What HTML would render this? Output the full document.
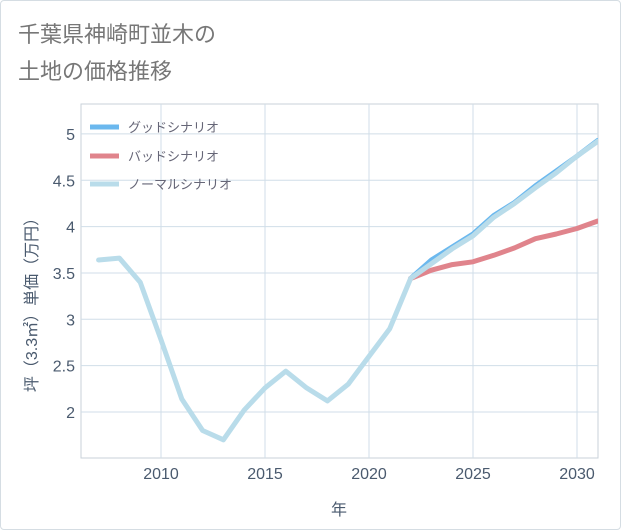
<!DOCTYPE html>
<html><head><meta charset="utf-8"><style>
body{margin:0;background:#fff;}
#wrap{position:relative;width:619px;height:528px;border:1px solid #d5dde3;border-radius:4px;background:#fff;overflow:hidden;}
svg text{font-family:"Liberation Sans","Noto Sans CJK JP",sans-serif;}
</style></head><body>
<div id="wrap">
<svg id="chart" width="621" height="530">
<defs><clipPath id="pc"><rect x="80" y="103" width="517" height="354"/></clipPath></defs>
<text x="17" y="41" font-size="22" fill="#777">千葉県神崎町並木の</text>
<text x="17" y="78" font-size="22" fill="#777">土地の価格推移</text>
<g id="grid"></g><g id="series" clip-path="url(#pc)"></g><g id="axes"></g>
</svg>
</div>
<script>
const years=[2007,2008,2009,2010,2011,2012,2013,2014,2015,2016,2017,2018,2019,2020,2021,2022,2023,2024,2025,2026,2027,2028,2029,2030,2031];
const normal=[3.64,3.66,3.40,2.78,2.14,1.80,1.70,2.02,2.26,2.44,2.26,2.12,2.30,2.60,2.90,3.44,3.60,3.76,3.90,4.10,4.25,4.42,4.58,4.76,4.92];
const goodYears=[2022,2023,2024,2025,2026,2027,2028,2029,2030,2031];
const good=[3.44,3.64,3.78,3.92,4.12,4.26,4.44,4.60,4.76,4.93];
const badYears=[2022,2023,2024,2025,2026,2027,2028,2029,2030,2031];
const bad=[3.44,3.53,3.59,3.62,3.69,3.77,3.87,3.92,3.98,4.06];
const xTicks=[2010,2015,2020,2025,2030];
const yTicks=[2,2.5,3,3.5,4,4.5,5];
const yTickLabels=["2","2.5","3","3.5","4","4.5","5"];
const L=80,R=597,T=103,B=457;
const X=v=>160+(v-2010)*20.8;
const Y=v=>411-(v-2)*92.7;
const NS="http://www.w3.org/2000/svg";
function mk(tag,at,parent){const e=document.createElementNS(NS,tag);for(const k in at)e.setAttribute(k,at[k]);document.getElementById(parent).appendChild(e);return e;}
let r=mk('rect',{x:L,y:T,width:R-L,height:B-T,fill:'#fff',stroke:'#c8d2da'},'grid');


xTicks.forEach(t=>{let l=mk('line',{x1:X(t),x2:X(t),y1:T,y2:B,stroke:'#d0dee8'},'grid');


let tx=mk('text',{x:X(t),y:478,'text-anchor':'middle','font-size':16,fill:'#4a5a6e'},'axes');tx.textContent=t;

});
yTicks.forEach((t,i)=>{let l=mk('line',{x1:L,x2:R,y1:Y(t),y2:Y(t),stroke:'#d0dee8'},'grid');


let tx=mk('text',{x:74,y:Y(t)+6,'text-anchor':'end','font-size':16,fill:'#4a5a6e'},'axes');tx.textContent=yTickLabels[i];

});
let xt=mk('text',{x:338,y:514,'text-anchor':'middle','font-size':16,fill:'#4a5a6e'},'axes');xt.textContent='年';


let yt=mk('text',{x:0,y:0,'text-anchor':'middle','font-size':16,fill:'#4a5a6e',transform:'translate(36,300) rotate(-90)'},'axes');yt.textContent='坪（3.3㎡）単価（万円）';


function line(xs,vs,color,name){const d=xs.map((x,i)=>(i?'L':'M')+X(x).toFixed(1)+','+Y(vs[i]).toFixed(1)).join('');
let p=mk('path',{d:d,fill:'none',stroke:color,'stroke-width':5,'stroke-linejoin':'round','stroke-linecap':'round'},'series');

}
line(goodYears,good,'#6bb8ee','good-scenario-line');
line(badYears,bad,'#e0848c','bad-scenario-line');
line(years,normal,'#b9dcea','normal-scenario-line');
const legend=[['グッドシナリオ','#6bb8ee',126],['バッドシナリオ','#e0848c',155],['ノーマルシナリオ','#b9dcea',183]];
legend.forEach(([t,c,y])=>{let l=mk('line',{x1:89,x2:118,y1:y,y2:y,stroke:c,'stroke-width':5},'axes');


let tx=mk('text',{x:127,y:y+5,'font-size':13,fill:'#667'},'axes');tx.textContent=t;

});
</script>
</body></html>
